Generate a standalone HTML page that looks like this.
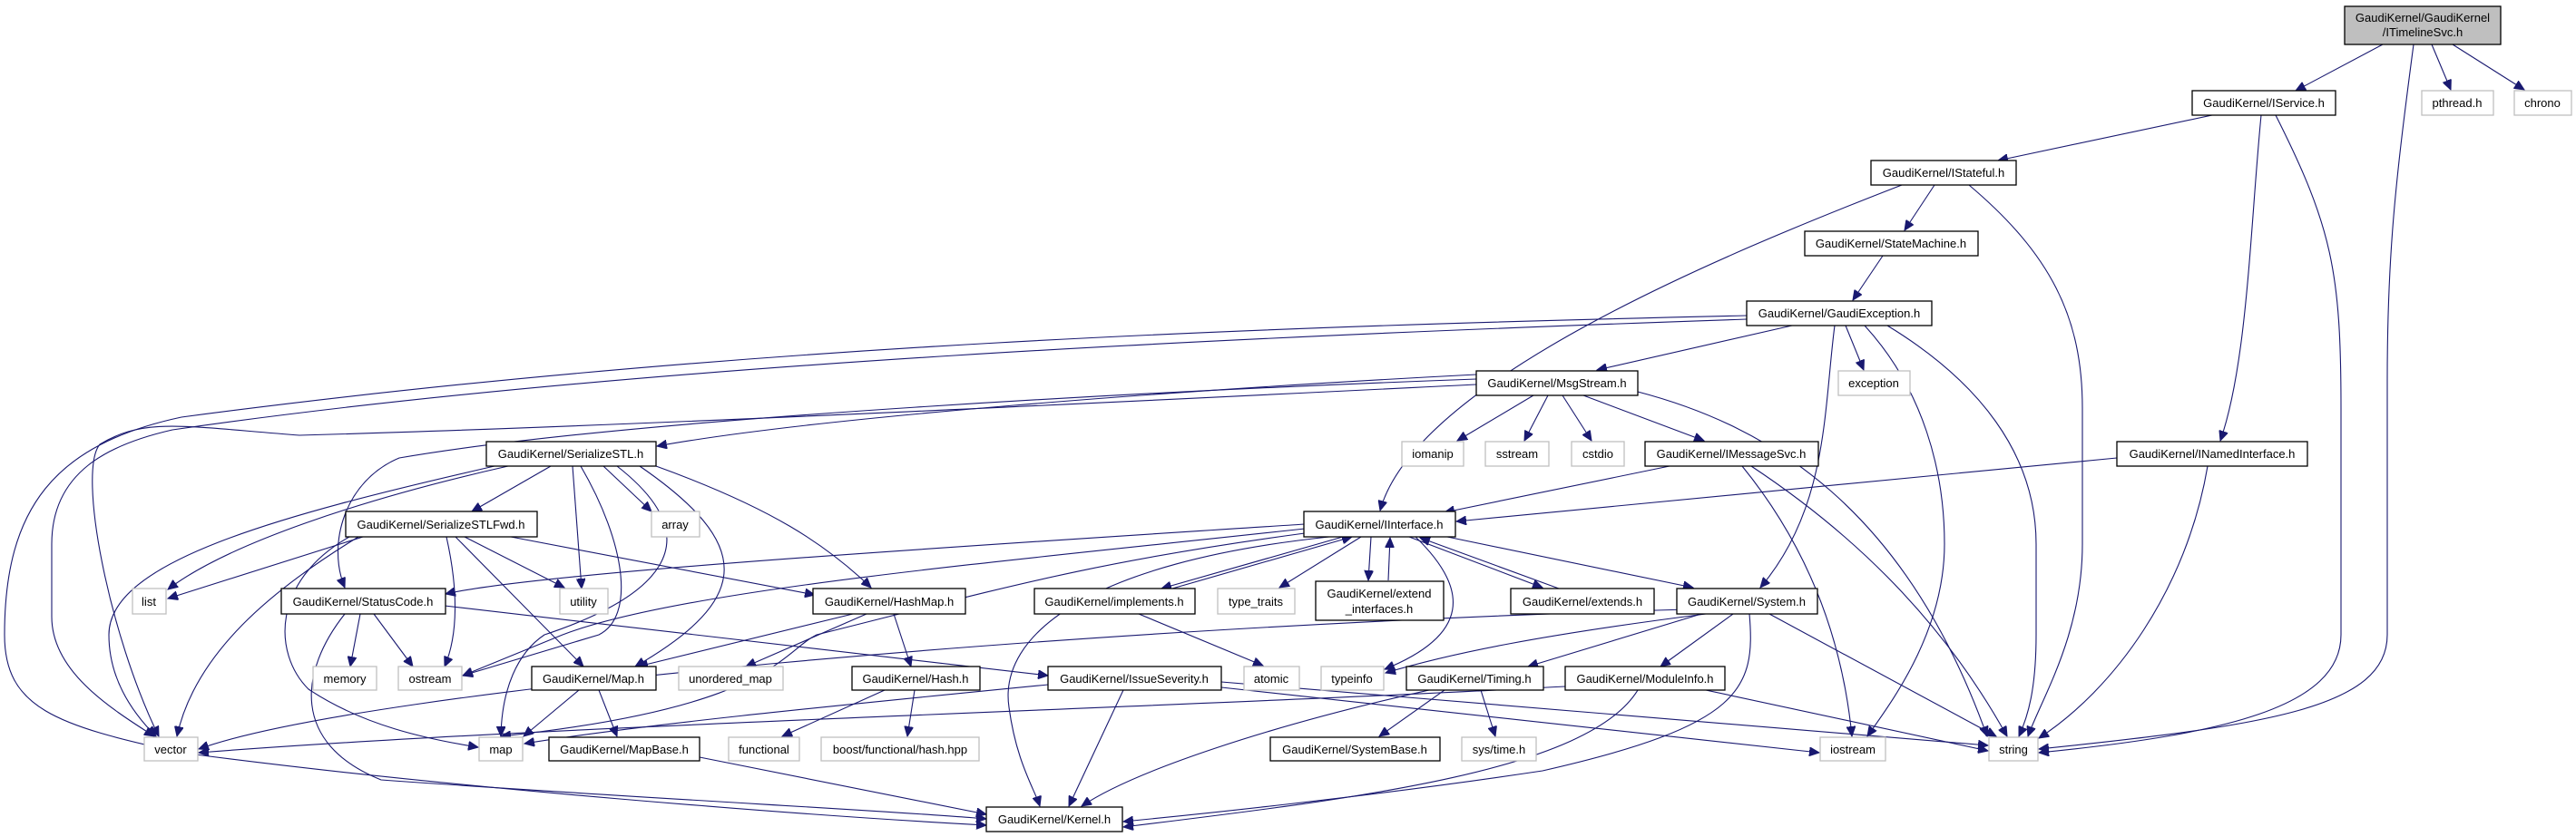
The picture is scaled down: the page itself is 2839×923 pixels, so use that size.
<!DOCTYPE html>
<html><head><meta charset="utf-8"><style>
html,body{margin:0;padding:0;background:#fff;}
svg{display:block;}
text{font-family:"Liberation Sans",Arial,sans-serif;font-size:13px;fill:#000;text-anchor:middle;}
.b{fill:#fff;stroke:#000;stroke-width:1.3;}
.g{fill:#fff;stroke:#bfbfbf;stroke-width:1.3;}
.e{fill:none;stroke:#191970;stroke-width:1.1;}
</style></head><body>
<svg width="2839" height="923" viewBox="0 0 2839 923" xmlns="http://www.w3.org/2000/svg">
<defs>
<marker id="a" markerUnits="userSpaceOnUse" markerWidth="12" markerHeight="10" refX="11" refY="5" orient="auto">
<path d="M0,0 L11,5 L0,10 Z" fill="#191970" stroke="#191970"/>
</marker>
</defs>
<g class="e" marker-end="url(#a)">
<!-- ITimelineSvc -->
<path d="M2626,49 L2530,100"/>
<path d="M2660,49 C2640,200 2631,280 2631,420 L2631,700 C2631,780 2500,800 2247,826"/>
<path d="M2680,49 L2701,99"/>
<path d="M2703,49 L2782,99"/>
<!-- IService -->
<path d="M2438,127 L2202,177"/>
<path d="M2492,127 C2480,250 2477,400 2447,486"/>
<path d="M2508,127 C2570,250 2580,300 2580,450 L2580,700 C2580,780 2450,810 2247,830"/>
<!-- IStateful -->
<path d="M2132,204 L2099,254"/>
<path d="M2096,204 C1900,280 1560,420 1521,563"/>
<path d="M2170,204 C2260,280 2295,350 2295,450 L2295,600 C2295,700 2250,770 2235,812"/>
<!-- StateMachine -->
<path d="M2075,282 L2042,331"/>
<!-- GaudiException -->
<path d="M1975,359 L1760,408"/>
<path d="M2034,359 L2054,408"/>
<path d="M2022,359 C2010,450 2015,560 1940,648"/>
<path d="M2055,359 C2120,430 2143,520 2143,600 C2143,700 2080,780 2058,812"/>
<path d="M2080,359 C2180,420 2244,500 2244,600 L2244,700 C2244,760 2235,790 2225,812"/>
<path d="M1925,348 C1400,360 800,380 200,460 C60,490 5,560 5,700 C5,780 60,800 200,830 C500,870 900,900 1087,910"/>
<path d="M1925,352 C1400,370 700,400 190,474 C120,490 57,520 57,600 L57,680 C57,740 120,780 170,812"/>
<!-- MsgStream -->
<path d="M1627,413 C1300,430 900,460 724,492"/>
<path d="M1627,418 C1300,430 700,460 440,505 C380,530 360,600 380,648"/>
<path d="M1627,424 C1300,440 700,470 330,480 C200,470 160,460 110,490 C85,520 120,700 175,812"/>
<path d="M1690,436 L1606,486"/>
<path d="M1706,436 L1680,486"/>
<path d="M1722,436 L1754,486"/>
<path d="M1745,436 L1878,486"/>
<path d="M1805,432 C1950,470 2100,560 2190,812"/>
<!-- IMessageSvc -->
<path d="M1840,514 L1592,565"/>
<path d="M1920,514 C1990,600 2030,700 2041,812"/>
<path d="M1930,514 C2060,600 2150,700 2212,812"/>
<!-- INamedInterface -->
<path d="M2333,505 L1605,575"/>
<path d="M2433,514 C2410,650 2330,760 2247,814"/>
<!-- SerializeSTL -->
<path d="M607,514 L520,564"/>
<path d="M560,514 C400,550 250,600 185,650"/>
<path d="M545,514 C300,570 120,620 120,700 C120,760 160,800 172,812"/>
<path d="M665,514 L718,564"/>
<path d="M631,514 L641,649"/>
<path d="M640,514 C690,600 700,680 660,700 L510,745"/>
<path d="M680,514 C790,600 720,660 600,700 C570,720 553,760 552,812"/>
<path d="M705,514 C830,600 830,660 700,735"/>
<path d="M723,514 C850,560 910,600 960,648"/>
<!-- SerializeSTLFwd -->
<path d="M400,592 L185,660"/>
<path d="M395,592 C300,650 215,720 195,812"/>
<path d="M512,592 L622,648"/>
<path d="M492,592 C505,650 505,700 490,735"/>
<path d="M502,592 L643,735"/>
<path d="M385,592 C300,640 300,720 340,760 C400,800 470,815 527,824"/>
<path d="M563,592 L898,656"/>
<!-- IInterface -->
<path d="M1480,592 L1280,649"/>
<path d="M1500,592 L1410,648"/>
<path d="M1511,592 L1508,640"/>
<path d="M1553,592 L1700,648"/>
<path d="M1595,592 L1866,648"/>
<path d="M1438,578 C1100,600 600,630 491,655"/>
<path d="M1438,583 C1100,620 750,650 620,700 L510,745"/>
<path d="M1438,588 C1200,620 1100,650 900,700 C860,720 850,780 552,812"/>
<path d="M1465,592 C1200,620 1100,700 1112,780 C1120,840 1140,870 1146,889"/>
<path d="M1560,592 C1620,650 1620,700 1526,738"/>
<!-- back edges -->
<path d="M1292,649 L1490,592"/>
<path d="M1530,640 L1532,593"/>
<path d="M1718,649 L1565,593"/>
<!-- implements -->
<path d="M1255,677 L1392,734"/>
<!-- StatusCode -->
<path d="M397,677 L386,735"/>
<path d="M412,677 L455,735"/>
<path d="M490,668 L1155,745"/>
<path d="M380,677 C330,740 320,820 420,860 C700,880 1000,895 1087,903"/>
<!-- HashMap -->
<path d="M940,677 L703,735"/>
<path d="M955,677 L822,735"/>
<path d="M985,677 L1004,735"/>
<!-- Hash -->
<path d="M975,761 L862,812"/>
<path d="M1008,761 L1000,812"/>
<!-- Map.h -->
<path d="M638,761 L577,812"/>
<path d="M660,761 L680,812"/>
<!-- MapBase -->
<path d="M771,835 L1087,898"/>
<!-- IssueSeverity -->
<path d="M1155,755 C900,780 700,800 578,820"/>
<path d="M1238,761 L1178,889"/>
<path d="M1346,752 L2191,822"/>
<path d="M1346,758 L2005,830"/>
<!-- System -->
<path d="M1880,677 C1700,700 1600,720 1527,742"/>
<path d="M1875,677 L1684,735"/>
<path d="M1910,677 L1830,735"/>
<path d="M1950,677 L2200,812"/>
<path d="M1928,677 C1935,760 1920,800 1700,850 C1500,880 1300,900 1238,906"/>
<path d="M1860,672 C1200,690 400,760 219,826"/>
<!-- Timing -->
<path d="M1592,761 L1520,812"/>
<path d="M1632,761 L1648,812"/>
<path d="M1575,761 C1400,800 1250,850 1192,889"/>
<!-- ModuleInfo -->
<path d="M1880,761 L2191,828"/>
<path d="M1805,761 C1750,850 1500,880 1238,912"/>
<path d="M1725,757 C1300,780 600,800 219,830"/>
</g>
<!-- nodes -->
<rect x="2584" y="7" width="172" height="42" fill="#bfbfbf" stroke="#000" stroke-width="1.3"/>
<text x="2670" y="24">GaudiKernel/GaudiKernel</text><text x="2670" y="40">/ITimelineSvc.h</text>
<rect class="b" x="2416" y="100" width="158" height="27"/><text x="2495" y="118">GaudiKernel/IService.h</text>
<rect class="g" x="2669" y="100" width="79" height="27"/><text x="2708" y="118">pthread.h</text>
<rect class="g" x="2771" y="100" width="63" height="27"/><text x="2802" y="118">chrono</text>
<rect class="b" x="2062" y="177" width="160" height="27"/><text x="2142" y="195">GaudiKernel/IStateful.h</text>
<rect class="b" x="1989" y="255" width="191" height="27"/><text x="2084" y="273">GaudiKernel/StateMachine.h</text>
<rect class="b" x="1925" y="332" width="204" height="27"/><text x="2027" y="350">GaudiKernel/GaudiException.h</text>
<rect class="g" x="2026" y="409" width="79" height="27"/><text x="2065" y="427">exception</text>
<rect class="b" x="1627" y="409" width="178" height="27"/><text x="1716" y="427">GaudiKernel/MsgStream.h</text>
<rect class="g" x="1545" y="487" width="68" height="27"/><text x="1579" y="505">iomanip</text>
<rect class="g" x="1637" y="487" width="70" height="27"/><text x="1672" y="505">sstream</text>
<rect class="g" x="1732" y="487" width="58" height="27"/><text x="1761" y="505">cstdio</text>
<rect class="b" x="1813" y="487" width="191" height="27"/><text x="1908" y="505">GaudiKernel/IMessageSvc.h</text>
<rect class="b" x="2333" y="487" width="210" height="27"/><text x="2438" y="505">GaudiKernel/INamedInterface.h</text>
<rect class="b" x="536" y="487" width="187" height="27"/><text x="629" y="505">GaudiKernel/SerializeSTL.h</text>
<rect class="b" x="1437" y="564" width="167" height="28"/><text x="1520" y="583">GaudiKernel/IInterface.h</text>
<rect class="b" x="381" y="564" width="211" height="28"/><text x="486" y="583">GaudiKernel/SerializeSTLFwd.h</text>
<rect class="g" x="718" y="564" width="53" height="28"/><text x="744" y="583">array</text>
<rect class="g" x="146" y="649" width="37" height="28"/><text x="164" y="668">list</text>
<rect class="b" x="310" y="649" width="181" height="28"/><text x="400" y="668">GaudiKernel/StatusCode.h</text>
<rect class="g" x="617" y="649" width="53" height="28"/><text x="643" y="668">utility</text>
<rect class="b" x="896" y="649" width="168" height="28"/><text x="980" y="668">GaudiKernel/HashMap.h</text>
<rect class="b" x="1140" y="649" width="177" height="28"/><text x="1228" y="668">GaudiKernel/implements.h</text>
<rect class="g" x="1342" y="649" width="85" height="28"/><text x="1384" y="668">type_traits</text>
<rect class="b" x="1450" y="641" width="141" height="43"/><text x="1520" y="659">GaudiKernel/extend</text><text x="1520" y="676">_interfaces.h</text>
<rect class="b" x="1665" y="649" width="158" height="28"/><text x="1744" y="668">GaudiKernel/extends.h</text>
<rect class="b" x="1848" y="649" width="155" height="28"/><text x="1925" y="668">GaudiKernel/System.h</text>
<rect class="g" x="345" y="735" width="70" height="26"/><text x="380" y="753">memory</text>
<rect class="g" x="439" y="735" width="70" height="26"/><text x="474" y="753">ostream</text>
<rect class="b" x="586" y="735" width="137" height="26"/><text x="654" y="753">GaudiKernel/Map.h</text>
<rect class="g" x="748" y="735" width="115" height="26"/><text x="805" y="753">unordered_map</text>
<rect class="b" x="939" y="735" width="141" height="26"/><text x="1009" y="753">GaudiKernel/Hash.h</text>
<rect class="b" x="1155" y="735" width="191" height="26"/><text x="1250" y="753">GaudiKernel/IssueSeverity.h</text>
<rect class="g" x="1371" y="735" width="61" height="26"/><text x="1401" y="753">atomic</text>
<rect class="g" x="1456" y="735" width="69" height="26"/><text x="1490" y="753">typeinfo</text>
<rect class="b" x="1550" y="735" width="151" height="26"/><text x="1625" y="753">GaudiKernel/Timing.h</text>
<rect class="b" x="1725" y="735" width="176" height="26"/><text x="1813" y="753">GaudiKernel/ModuleInfo.h</text>
<rect class="g" x="159" y="813" width="59" height="26"/><text x="188" y="831">vector</text>
<rect class="g" x="528" y="813" width="48" height="26"/><text x="552" y="831">map</text>
<rect class="b" x="605" y="813" width="166" height="26"/><text x="688" y="831">GaudiKernel/MapBase.h</text>
<rect class="g" x="803" y="813" width="78" height="26"/><text x="842" y="831">functional</text>
<rect class="g" x="905" y="813" width="174" height="26"/><text x="992" y="831">boost/functional/hash.hpp</text>
<rect class="b" x="1400" y="813" width="187" height="26"/><text x="1493" y="831">GaudiKernel/SystemBase.h</text>
<rect class="g" x="1611" y="813" width="82" height="26"/><text x="1652" y="831">sys/time.h</text>
<rect class="g" x="2006" y="813" width="72" height="26"/><text x="2042" y="831">iostream</text>
<rect class="g" x="2192" y="813" width="54" height="26"/><text x="2219" y="831">string</text>
<rect class="b" x="1087" y="890" width="150" height="27"/><text x="1162" y="908">GaudiKernel/Kernel.h</text>
</svg>
</body></html>
